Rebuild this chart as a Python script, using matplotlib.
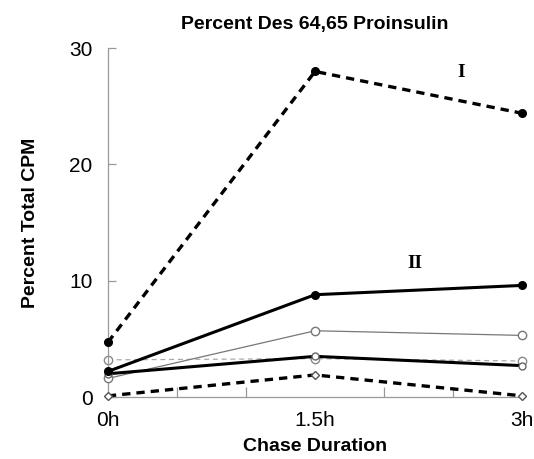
"""Percent Des 64,65 proinsulin over chase duration."""

import matplotlib.pyplot as plt

plt.rcParams["font.family"] = ["Liberation Sans", "DejaVu Sans"]

hours = [0, 1.5, 3]
tick_labels = ["0h", "1.5h", "3h"]

peak_I = [4.7, 28.0, 24.4]  # thick dashed, filled dots
peak_II = [2.2, 8.8, 9.6]  # thick solid, filled dots
thin_open = [1.6, 5.7, 5.3]  # thin solid, open circles
thin_dashed = [3.2, 3.3, 3.1]  # light dashed, open circles
thick_lower = [2.0, 3.5, 2.7]  # thick solid, open circles
dashed_diamond = [0.1, 1.9, 0.1]  # thick dashed, open diamonds

fig = plt.figure(figsize=(5.34, 4.59), dpi=100)
ax = fig.add_axes([0.202, 0.135, 0.776, 0.76])

ax.plot(hours, thin_dashed, color="#aaaaaa", lw=0.9, ls=(0, (4, 3)),
        marker="o", mfc="white", mec="#888888", ms=6, clip_on=False, zorder=2)
ax.plot(hours, thin_open, color="#777777", lw=0.9,
        marker="o", mfc="white", mec="#777777", ms=6, clip_on=False, zorder=3)
ax.plot(hours, thick_lower, color="black", lw=2.2,
        marker="o", mfc="white", mec="#666666", ms=5, clip_on=False, zorder=4)
ax.plot(hours, dashed_diamond, color="black", lw=2.4, ls=(0, (2.5, 1.8)),
        marker="D", mfc="white", mec="#555555", ms=4.5, clip_on=False, zorder=4)
ax.plot(hours, peak_II, color="black", lw=2.2,
        marker="o", mfc="black", mec="black", ms=5.5, clip_on=False, zorder=5)
ax.plot(hours, peak_I, color="black", lw=2.4, ls=(0, (2.5, 1.8)),
        marker="o", mfc="black", mec="black", ms=5.5, clip_on=False, zorder=5)

ax.text(2.56, 27.9, "I", family="Liberation Serif", fontweight="bold", fontsize=14,
        ha="center", va="center")
ax.text(2.22, 11.5, "II", family="Liberation Serif", fontweight="bold", fontsize=14,
        ha="center", va="center")

ax.set_xlim(0, 3)
ax.set_ylim(0, 30)
ax.set_xticks(hours)
ax.set_xticklabels(tick_labels)
ax.set_xticks([0.5, 1, 2, 2.5], minor=True)
ax.set_yticks([0, 10, 20, 30])

for side in ["top", "right"]:
    ax.spines[side].set_visible(False)
for side in ["left", "bottom"]:
    ax.spines[side].set_color("#999999")
    ax.spines[side].set_linewidth(0.9)
ax.tick_params(axis="both", which="both", direction="in", color="#999999",
               labelsize=15, width=0.9)
ax.tick_params(axis="x", which="major", length=0, pad=10)
ax.tick_params(axis="x", which="minor", length=7)
ax.tick_params(axis="y", length=6, pad=11)

ax.set_title("Percent Des 64,65 Proinsulin", fontweight="bold", fontsize=14, pad=14)
ax.set_xlabel("Chase Duration", fontweight="bold", fontsize=14, labelpad=6)
ax.set_ylabel("Percent Total CPM", fontweight="bold", fontsize=14, labelpad=22)

fig.savefig("out.png", dpi=100)
